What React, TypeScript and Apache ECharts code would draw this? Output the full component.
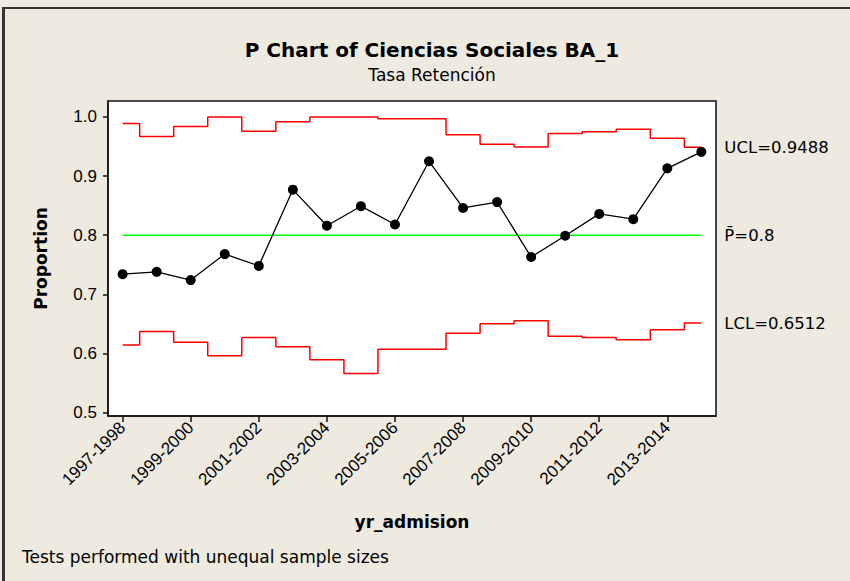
import React, { useEffect, useRef } from "react";
import * as echarts from "echarts";

const categories = [
  "1997-1998", "1998-1999", "1999-2000", "2000-2001", "2001-2002", "2002-2003",
  "2003-2004", "2004-2005", "2005-2006", "2006-2007", "2007-2008", "2008-2009",
  "2009-2010", "2010-2011", "2011-2012", "2012-2013", "2013-2014", "2014-2015",
];
const proportion = [
  0.734, 0.738, 0.724, 0.768, 0.748, 0.877, 0.816, 0.849, 0.818,
  0.925, 0.846, 0.856, 0.763, 0.799, 0.836, 0.827, 0.913, 0.941,
];
const ucl = [
  0.989, 0.967, 0.984, 1.0, 0.976, 0.992, 1.0, 1.0, 0.997,
  0.997, 0.97, 0.954, 0.949, 0.972, 0.975, 0.979, 0.964, 0.9488,
];
const lcl = [
  0.614, 0.637, 0.619, 0.596, 0.627, 0.611, 0.589, 0.566, 0.607,
  0.607, 0.634, 0.65, 0.655, 0.629, 0.627, 0.623, 0.64, 0.6512,
];
const pBar = 0.8;
const yTicks = [0.5, 0.6, 0.7, 0.8, 0.9, 1.0];
const xTickIdx = [0, 2, 4, 6, 8, 10, 12, 14, 16];

const SANS = "'Liberation Sans', Arial, sans-serif";
const DJV = "'DejaVu Sans', Verdana, sans-serif";

export default function App() {
  const ref = useRef<HTMLDivElement>(null);
  useEffect(() => {
    if (!ref.current) return;
    const chart = echarts.init(ref.current, undefined, { renderer: "svg" });
    const idx = categories.map((_, i) => i);
    chart.setOption({
      animation: false,
      backgroundColor: "#EEEAE0",
      textStyle: { fontFamily: SANS },
      grid: {
        left: 108,
        top: 101,
        right: 134,
        bottom: 165,
        show: true,
        backgroundColor: "#ffffff",
        borderColor: "#111",
        borderWidth: 1.5,
      },
      xAxis: {
        type: "value",
        min: -0.43,
        max: 17.43,
        name: "yr_admision",
        nameLocation: "middle",
        nameGap: 97,
        nameTextStyle: { fontFamily: DJV, fontWeight: "bold", fontSize: 17, color: "#000" },
        splitLine: { show: false },
        axisLine: { show: true, onZero: false, lineStyle: { color: "#111", width: 1.5 } },
        axisTick: { show: true, length: 6, lineStyle: { color: "#111", width: 1.5 }, customValues: xTickIdx },
        axisLabel: {
          customValues: xTickIdx,
          rotate: 45,
          margin: 9,
          fontSize: 17,
          color: "#000",
          fontFamily: SANS,
          formatter: (v: number) => categories[Math.round(v)] ?? "",
        },
      },
      yAxis: {
        type: "value",
        min: 0.494,
        max: 1.027,
        name: "Proportion",
        nameLocation: "middle",
        nameGap: 59,
        nameTextStyle: { fontFamily: DJV, fontWeight: "bold", fontSize: 17, color: "#000" },
        splitLine: { show: false },
        axisLine: { show: true, onZero: false, lineStyle: { color: "#111", width: 1.5 } },
        axisTick: { show: true, length: 5, lineStyle: { color: "#111", width: 1.5 }, customValues: yTicks },
        axisLabel: {
          customValues: yTicks,
          margin: 11,
          fontSize: 17,
          color: "#000",
          fontFamily: SANS,
          formatter: (v: number) => v.toFixed(1),
        },
      },
      graphic: [
        { type: "line", shape: { x1: 2, y1: 8, x2: 850, y2: 8 }, style: { stroke: "#333", lineWidth: 2 } },
        { type: "line", shape: { x1: 3.5, y1: 8, x2: 3.5, y2: 581 }, style: { stroke: "#333", lineWidth: 3 } },
        {
          type: "text", x: 432, y: 50,
          style: { text: "P Chart of Ciencias Sociales BA_1", font: `bold 20px ${DJV}`, fill: "#000", textAlign: "center", textVerticalAlign: "middle" },
        },
        {
          type: "text", x: 432, y: 74.5,
          style: { text: "Tasa Retención", font: `17px ${DJV}`, fill: "#000", textAlign: "center", textVerticalAlign: "middle" },
        },
        {
          type: "text", x: 22, y: 557,
          style: { text: "Tests performed with unequal sample sizes", font: `17px ${DJV}`, fill: "#000", textAlign: "left", textVerticalAlign: "middle" },
        },
      ],
      series: [
        {
          type: "line",
          step: "middle",
          data: idx.map((i) => [i, ucl[i]]),
          showSymbol: false,
          symbol: "none",
          lineStyle: { color: "#ff0000", width: 1.5 },
          endLabel: {
            show: true,
            formatter: "UCL=0.9488",
            distance: 23,
            fontFamily: DJV,
            fontSize: 16.5,
            color: "#000",
          },
          z: 2,
        },
        {
          type: "line",
          step: "middle",
          data: idx.map((i) => [i, lcl[i]]),
          showSymbol: false,
          symbol: "none",
          lineStyle: { color: "#ff0000", width: 1.5 },
          endLabel: {
            show: true,
            formatter: "LCL=0.6512",
            distance: 23,
            fontFamily: DJV,
            fontSize: 16.5,
            color: "#000",
          },
          z: 2,
        },
        {
          type: "line",
          data: [[0, pBar], [categories.length - 1, pBar]],
          showSymbol: false,
          symbol: "none",
          lineStyle: { color: "#00ff00", width: 1.5 },
          endLabel: {
            show: true,
            formatter: "P\u0304=0.8",
            distance: 23,
            fontFamily: DJV,
            fontSize: 16.5,
            color: "#000",
          },
          z: 2,
        },
        {
          type: "line",
          data: idx.map((i) => [i, proportion[i]]),
          symbol: "circle",
          symbolSize: 10,
          itemStyle: { color: "#000" },
          lineStyle: { color: "#000", width: 1.3 },
          z: 5,
        },
      ],
    });
    return () => chart.dispose();
  }, []);
  return (
    <div
      ref={ref}
      style={{ position: "fixed", left: 0, top: 0, width: 850, height: 581 }}
    />
  );
}
